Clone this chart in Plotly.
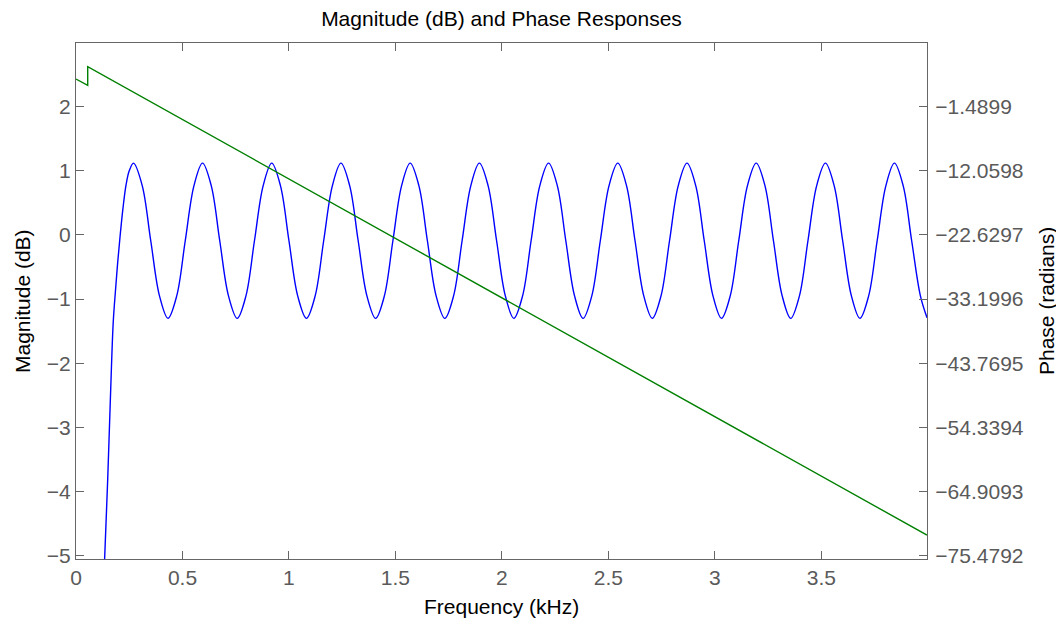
import plotly.graph_objects as go

# ---------------- data ----------------
# Magnitude response (dB) vs frequency (kHz)
mag_freq = [
    0.000, 0.060, 0.100, 0.120, 0.135, 0.149, 0.162, 0.175, 0.187, 0.196, 0.207, 0.220, 0.235, 0.250,
    0.270, 0.311, 0.351, 0.392, 0.432, 0.473, 0.513, 0.554,
    0.594, 0.635, 0.675, 0.716, 0.757, 0.798, 0.838, 0.879,
    0.919, 0.960, 1.000, 1.041, 1.082, 1.123, 1.163, 1.204,
    1.244, 1.285, 1.325, 1.366, 1.407, 1.448, 1.488, 1.529,
    1.569, 1.610, 1.650, 1.691, 1.732, 1.773, 1.813, 1.854,
    1.894, 1.935, 1.975, 2.016, 2.056, 2.097, 2.137, 2.178,
    2.219, 2.260, 2.300, 2.341, 2.381, 2.422, 2.462, 2.503,
    2.544, 2.585, 2.625, 2.666, 2.706, 2.747, 2.787, 2.828,
    2.869, 2.910, 2.950, 2.991, 3.031, 3.072, 3.112, 3.153,
    3.194, 3.235, 3.275, 3.316, 3.356, 3.397, 3.437, 3.478,
    3.519, 3.560, 3.600, 3.641, 3.681, 3.722, 3.762, 3.803,
    3.843, 3.884, 3.924, 3.965, 3.996,
]
mag_db = [
    -60.0, -25.0, -9.5, -6.4, -5.0, -3.80, -2.50, -1.35, -0.80, -0.42, -0.02, 0.40, 0.78, 1.00,
    1.12, 0.77, -0.09, -0.95, -1.30, -0.95, -0.09, 0.77,
    1.12, 0.77, -0.09, -0.95, -1.30, -0.95, -0.09, 0.77,
    1.12, 0.77, -0.09, -0.95, -1.30, -0.95, -0.09, 0.77,
    1.12, 0.77, -0.09, -0.95, -1.30, -0.95, -0.09, 0.77,
    1.12, 0.77, -0.09, -0.95, -1.30, -0.95, -0.09, 0.77,
    1.12, 0.77, -0.09, -0.95, -1.30, -0.95, -0.09, 0.77,
    1.12, 0.77, -0.09, -0.95, -1.30, -0.95, -0.09, 0.77,
    1.12, 0.77, -0.09, -0.95, -1.30, -0.95, -0.09, 0.77,
    1.12, 0.77, -0.09, -0.95, -1.30, -0.95, -0.09, 0.77,
    1.12, 0.77, -0.09, -0.95, -1.30, -0.95, -0.09, 0.77,
    1.12, 0.77, -0.09, -0.95, -1.30, -0.95, -0.09, 0.77,
    1.12, 0.77, -0.09, -0.95, -1.29,
]

# Phase response (radians) vs frequency (kHz)
phase_freq = [0.000, 0.055, 0.055, 3.996]
phase_rad = [3.08, 2.03, 5.12, -72.10]

# Axis ticks
x_ticks = [0, 0.5, 1, 1.5, 2, 2.5, 3, 3.5]
x_tick_labels = ["0", "0.5", "1", "1.5", "2", "2.5", "3", "3.5"]
mag_ticks = [-5, -4, -3, -2, -1, 0, 1, 2]
mag_tick_labels = ["\u22125", "\u22124", "\u22123", "\u22122", "\u22121", "0", "1", "2"]
phase_ticks = [-75.4792, -64.9093, -54.3394, -43.7695, -33.1996, -22.6297, -12.0598, -1.4899]
phase_tick_labels = ["\u221275.4792", "\u221264.9093", "\u221254.3394", "\u221243.7695",
                     "\u221233.1996", "\u221222.6297", "\u221212.0598", "\u22121.4899"]

# ---------------- layout constants ----------------
# the page body adds an 8px offset, so the figure is 8px smaller and margins compensate
W, H = 1056, 612
ML, MR, MT, MB = 68, 137, 35, 61
FONT = "Liberation Sans, Arial, Helvetica, sans-serif"
AXC = "#666666"
TICKC = "#5a5a5a"
FS = 21

x_range = [0, 3.996]
mag_range = [-5.053, 2.994]
# right axis is a linear relabelling of the left one (ticks aligned)
scale = (phase_ticks[-1] - phase_ticks[0]) / (mag_ticks[-1] - mag_ticks[0])
def mag_to_phase(v):
    return phase_ticks[0] + (v - mag_ticks[0]) * scale
phase_range = [mag_to_phase(mag_range[0]), mag_to_phase(mag_range[1])]

fig = go.Figure()
fig.add_trace(go.Scatter(
    x=mag_freq, y=mag_db, mode="lines",
    line=dict(color="#0000ff", width=1.4, shape="spline", smoothing=1.0),
    yaxis="y", showlegend=False, hoverinfo="skip",
))
fig.add_trace(go.Scatter(
    x=phase_freq, y=phase_rad, mode="lines",
    line=dict(color="#008000", width=1.4),
    yaxis="y2", showlegend=False, hoverinfo="skip",
))

axis_common = dict(
    showgrid=False, zeroline=False, showline=True, linecolor=AXC, linewidth=1.3,
    ticks="inside", ticklen=8, tickwidth=1, tickcolor=AXC,
    tickfont=dict(family=FONT, size=FS, color=TICKC),
)

fig.update_layout(
    width=W, height=H,
    margin=dict(l=ML, r=MR, t=MT, b=MB, autoexpand=False),
    paper_bgcolor="white", plot_bgcolor="white",
    title=dict(text="Magnitude (dB) and Phase Responses", x=(ML + (W - MR)) / 2 / W,
               xanchor="center", y=1 - 11 / H, yanchor="middle",
               font=dict(family=FONT, size=FS, color="black")),
    xaxis=dict(range=x_range, tickvals=x_ticks, ticktext=x_tick_labels,
               mirror="ticks", **axis_common),
    yaxis=dict(range=mag_range, tickvals=mag_ticks, ticktext=mag_tick_labels,
               side="left", **axis_common),
    yaxis2=dict(range=phase_range, tickvals=phase_ticks, ticktext=phase_tick_labels,
                side="right", overlaying="y", ticklabelstandoff=3, **axis_common),
    annotations=[
        dict(text="Frequency (kHz)", xref="paper", yref="paper", x=0.5, y=0,
             yshift=-47, xanchor="center", yanchor="middle", showarrow=False,
             font=dict(family=FONT, size=FS, color="black")),
        dict(text="Magnitude (dB)", xref="paper", yref="paper", x=0, y=0.5,
             xshift=-54, xanchor="center", yanchor="middle", textangle=-90, showarrow=False,
             font=dict(family=FONT, size=FS, color="black")),
        dict(text="Phase (radians)", xref="paper", yref="paper", x=1, y=0.5,
             xshift=119, xanchor="center", yanchor="middle", textangle=-90, showarrow=False,
             font=dict(family=FONT, size=FS, color="black")),
    ],
)

fig.write_html("out.html")
